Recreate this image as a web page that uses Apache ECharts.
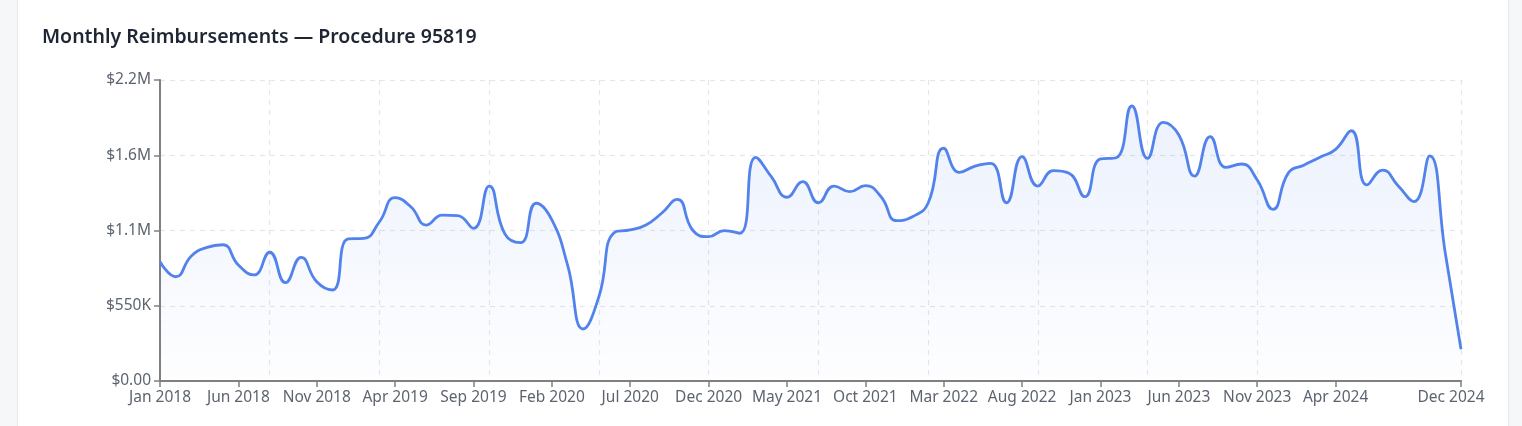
<!DOCTYPE html>
<html>
<head>
<meta charset="utf-8">
<script src="https://cdn.jsdelivr.net/npm/echarts@6/dist/echarts.min.js"></script>
<style>
  html, body { margin: 0; padding: 0; width: 1522px; height: 426px; overflow: hidden; background: #f6f7f9; }
  #card { position: absolute; left: 17px; top: -12px; width: 1490px; height: 460px; background: #ffffff; border: 1px solid #e6e8ec; border-radius: 12px; }
  #chart { position: absolute; left: 0; top: 0; width: 1522px; height: 426px; }
</style>
</head>
<body>
<div id="card"></div>
<div id="chart"></div>
<script>
const title = 'Monthly Reimbursements — Procedure 95819';
const monthNames = ['Jan','Feb','Mar','Apr','May','Jun','Jul','Aug','Sep','Oct','Nov','Dec'];
const years = [2018, 2019, 2020, 2021, 2022, 2023, 2024];
const categories = [];
years.forEach(y => monthNames.forEach(m => categories.push(m + ' ' + y)));

const values = [
  872000, 762000, 914000, 977000, 996000, 848000, 775000, 941000, 719000, 904000, 725000, 665000,
  1038000, 1042000, 1164000, 1340000, 1274000, 1140000, 1213000, 1208000, 1116000, 1425000, 1075000, 1011000,
  1299000, 1177000, 848000, 380000, 616000, 1087000, 1104000, 1140000, 1226000, 1328000, 1100000, 1055000,
  1099000, 1080000, 1635000, 1493000, 1343000, 1457000, 1303000, 1425000, 1384000, 1428000, 1347000, 1172000,
  1201000, 1299000, 1701000, 1525000, 1571000, 1591000, 1303000, 1640000, 1425000, 1537000, 1518000, 1347000,
  1623000, 1632000, 2010000, 1628000, 1891000, 1798000, 1498000, 1786000, 1562000, 1586000, 1469000, 1255000,
  1523000, 1579000, 1635000, 1693000, 1829000, 1433000, 1542000, 1425000, 1311000, 1645000, 933000, 232000
];
const yTicks = { min: 0, max: 2200000, interval: 550000 };

function fmtMoney(v) {
  if (v === 0) return '$0.00';
  if (v >= 1000000) return '$' + (v / 1000000).toFixed(1) + 'M';
  if (v >= 1000) return '$' + Math.round(v / 1000) + 'K';
  return '$' + v;
}
const lastIdx = categories.length - 1;
const labelShow = (i) => (i % 5 === 0 && i < lastIdx - 4) || i === lastIdx;
const splitShow = (i) => (i % 7 === 0 && i <= 70) || i === lastIdx;

const FONT = 'Noto Sans';
const LABEL_COLOR = '#5c6470';
const chart = echarts.init(document.getElementById('chart'), null, { renderer: 'canvas' });
chart.setOption({
  backgroundColor: 'transparent',
  animation: false,
  title: {
    text: title,
    left: 37, top: 22,
    textStyle: { fontFamily: FONT, fontSize: 19.5, fontWeight: 600, color: '#1f2633' }
  },
  grid: { left: 160, right: 61, top: 80, bottom: 45 },
  xAxis: {
    type: 'category',
    data: categories,
    boundaryGap: false,
    axisLine: { lineStyle: { color: '#808080', width: 2 } },
    axisTick: { show: true, length: 6, interval: labelShow, lineStyle: { color: '#808080', width: 1.5 } },
    axisLabel: {
      interval: labelShow, color: LABEL_COLOR, fontFamily: FONT, fontSize: 15.5, margin: 9,
      formatter: (v, i) => i === lastIdx ? '{last|' + v + '}' : v,
      rich: { last: { color: LABEL_COLOR, fontFamily: FONT, fontSize: 15.5, padding: [0, 20, 0, 0] } }
    },
    splitLine: { show: true, interval: splitShow, lineStyle: { color: '#e3e6ec', type: [5, 5], width: 1.2 } }
  },
  yAxis: {
    type: 'value',
    min: yTicks.min, max: yTicks.max, interval: yTicks.interval,
    axisLine: { show: true, lineStyle: { color: '#808080', width: 2 } },
    axisTick: { show: true, length: 6, lineStyle: { color: '#808080', width: 1.5 } },
    axisLabel: { formatter: fmtMoney, color: LABEL_COLOR, fontFamily: FONT, fontSize: 15.5, margin: 9 },
    splitLine: { show: true, lineStyle: { color: '#e3e6ec', type: [5, 5], width: 1.2 } }
  },
  series: [{
    type: 'line',
    data: values,
    smooth: true,
    symbol: 'none',
    lineStyle: { color: '#5282ec', width: 2.8 },
    itemStyle: { color: '#5282ec' },
    areaStyle: {
      color: new echarts.graphic.LinearGradient(0, 0, 0, 1, [
        { offset: 0, color: 'rgba(82,130,236,0.16)' },
        { offset: 1, color: 'rgba(82,130,236,0.01)' }
      ])
    }
  }]
});
</script>
</body>
</html>
